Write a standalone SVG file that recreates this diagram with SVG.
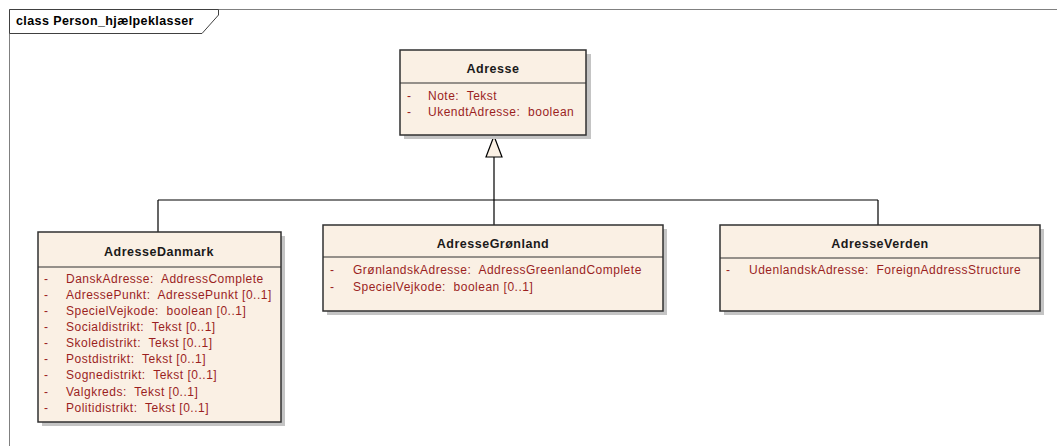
<svg xmlns="http://www.w3.org/2000/svg" width="1057" height="446" viewBox="0 0 1057 446">
<style>
.frame{fill:none;stroke:#808080;stroke-width:1}
.tab{fill:#ffffff;stroke:#404040;stroke-width:1}
.box{fill:#FAF0E4;stroke:#303030;stroke-width:1.5}
.shadow{fill:#C4C4C4}
.div{stroke:#303030;stroke-width:1}
.title{font-family:"Liberation Sans",Arial,sans-serif;font-size:12.5px;letter-spacing:0.5px;font-weight:bold;fill:#1a1a1a;text-anchor:middle}
.attr{font-family:"Liberation Sans",Arial,sans-serif;font-size:12px;letter-spacing:0.5px;fill:#9a1f1f;white-space:pre}
.ftitle{font-family:"Liberation Sans",Arial,sans-serif;font-size:12.5px;letter-spacing:0.4px;font-weight:bold;fill:#000}
.conn{fill:none;stroke:#000;stroke-width:1.2}
</style>
<rect width="1057" height="446" fill="#ffffff"/>
<g id="frame">
<path class="frame" d="M9.5,446 V9.5 H1057"/>
<path class="tab" d="M9.5,9.5 H218.5 V15 L202,33.5 H9.5 Z"/>
<text class="ftitle" x="16" y="25">class Person_hjælpeklasser</text>
</g>
<g id="connectors">
<path class="conn" d="M494,157 V200 M158,200 H878 M158,200 V232 M494,200 V225 M878,200 V225"/>
<path d="M494,136 L486,157 H502 Z" fill="#FAF0E4" stroke="#000" stroke-width="1.2"/>
</g>
<g id="Adresse">
<rect class="shadow" x="404" y="54" width="187" height="85"/>
<rect class="box" x="400" y="50" width="186" height="85"/>
<line class="div" x1="400" y1="83" x2="586" y2="83"/>
<text class="title" x="493" y="73">Adresse</text>
<text class="attr" x="407" y="100">-</text><text class="attr" x="428" y="100" xml:space="preserve">Note:  Tekst</text>
<text class="attr" x="407" y="116">-</text><text class="attr" x="428" y="116" xml:space="preserve">UkendtAdresse:  boolean</text>
</g>
<g id="AdresseDanmark">
<rect class="shadow" x="42" y="236" width="243" height="190"/>
<rect class="box" x="38" y="232" width="243" height="190"/>
<line class="div" x1="38" y1="267" x2="281" y2="267"/>
<text class="title" x="159" y="256">AdresseDanmark</text>
<text class="attr" x="44" y="283">-</text><text class="attr" x="66" y="283" xml:space="preserve">DanskAdresse:  AddressComplete</text>
<text class="attr" x="44" y="299">-</text><text class="attr" x="66" y="299" xml:space="preserve">AdressePunkt:  AdressePunkt [0..1]</text>
<text class="attr" x="44" y="315">-</text><text class="attr" x="66" y="315" xml:space="preserve">SpecielVejkode:  boolean [0..1]</text>
<text class="attr" x="44" y="331">-</text><text class="attr" x="66" y="331" xml:space="preserve">Socialdistrikt:  Tekst [0..1]</text>
<text class="attr" x="44" y="347">-</text><text class="attr" x="66" y="347" xml:space="preserve">Skoledistrikt:  Tekst [0..1]</text>
<text class="attr" x="44" y="363">-</text><text class="attr" x="66" y="363" xml:space="preserve">Postdistrikt:  Tekst [0..1]</text>
<text class="attr" x="44" y="379">-</text><text class="attr" x="66" y="379" xml:space="preserve">Sognedistrikt:  Tekst [0..1]</text>
<text class="attr" x="44" y="396">-</text><text class="attr" x="66" y="396" xml:space="preserve">Valgkreds:  Tekst [0..1]</text>
<text class="attr" x="44" y="412">-</text><text class="attr" x="66" y="412" xml:space="preserve">Politidistrikt:  Tekst [0..1]</text>
</g>
<g id="AdresseGronland">
<rect class="shadow" x="327" y="229" width="340" height="86"/>
<rect class="box" x="323" y="225" width="340" height="86"/>
<line class="div" x1="323" y1="257" x2="663" y2="257"/>
<text class="title" x="493" y="248">AdresseGrønland</text>
<text class="attr" x="330" y="274">-</text><text class="attr" x="353" y="274" xml:space="preserve">GrønlandskAdresse:  AddressGreenlandComplete</text>
<text class="attr" x="330" y="291">-</text><text class="attr" x="353" y="291" xml:space="preserve">SpecielVejkode:  boolean [0..1]</text>
</g>
<g id="AdresseVerden">
<rect class="shadow" x="724" y="229" width="320" height="86"/>
<rect class="box" x="720" y="225" width="320" height="86"/>
<line class="div" x1="720" y1="258" x2="1040" y2="258"/>
<text class="title" x="880" y="248">AdresseVerden</text>
<text class="attr" x="726" y="274">-</text><text class="attr" x="749" y="274" xml:space="preserve">UdenlandskAdresse:  ForeignAddressStructure</text>
</g>
</svg>
